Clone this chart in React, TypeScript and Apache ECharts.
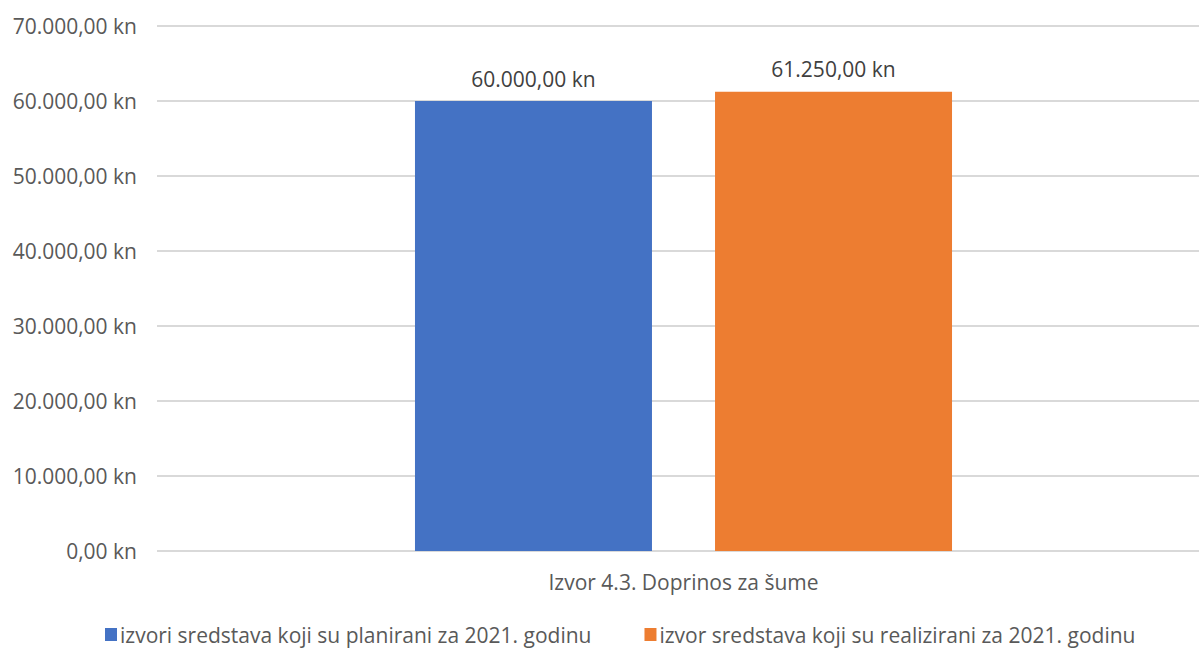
import React, { useEffect, useRef } from "react";
import * as echarts from "echarts";

const categories = ["Izvor 4.3. Doprinos za šume"];
const seriesNames = [
  "izvori sredstava koji su planirani za 2021. godinu",
  "izvor sredstava koji su realizirani za 2021. godinu",
];
const plannedValues = [60000];
const realizedValues = [61250];
const colors = ["#4472C4", "#ED7D31"];
const yMin = 0;
const yMax = 70000;
const yInterval = 10000;

function fmtKn(v: number): string {
  const fixed = Math.abs(v).toFixed(2);
  const [intPart, dec] = fixed.split(".");
  const withDots = intPart.replace(/\B(?=(\d{3})+(?!\d))/g, ".");
  return (v < 0 ? "-" : "") + withDots + "," + dec + " kn";
}

const FONT = "'Open Sans', sans-serif";
const TEXT = "#595959";
const FS = 21;

export default function App() {
  const ref = useRef<HTMLDivElement>(null);
  useEffect(() => {
    document.body.style.margin = "0";
    if (!ref.current) return;
    const chart = echarts.init(ref.current, null, { renderer: "svg" });
    const barLabel = {
      show: true,
      position: "top",
      distance: 12,
      color: "#404040",
      fontSize: FS,
      fontFamily: FONT,
      formatter: (p: any) => fmtKn(p.value),
    };
    chart.setOption({
      animation: false,
      textStyle: { fontFamily: FONT },
      grid: [
        { left: 157, right: 0, top: 26, bottom: 97, containLabel: false },
        { left: 168, right: 0, top: 26, bottom: 97, containLabel: false },
      ],
      legend: {
        left: 105,
        top: 624,
        itemWidth: 12,
        itemHeight: 13,
        itemGap: 53,
        icon: "rect",
        textStyle: { color: TEXT, fontSize: FS, fontFamily: FONT, padding: [0, 0, 0, -2] },
        padding: 0,
      },
      xAxis: [
        {
          type: "category",
          gridIndex: 0,
          data: categories,
          axisLine: { show: false },
          axisTick: { show: false },
          axisLabel: { show: false },
        },
        {
          type: "category",
          gridIndex: 1,
          data: categories,
          axisLine: { show: false },
          axisTick: { show: false },
          axisLabel: { color: TEXT, fontSize: FS, fontFamily: FONT, margin: 20 },
        },
      ],
      yAxis: [
        {
          type: "value",
          gridIndex: 0,
          min: yMin,
          max: yMax,
          interval: yInterval,
          axisLine: { show: false },
          axisTick: { show: false },
          splitLine: { lineStyle: { color: "#D9D9D9", width: 2 } },
          axisLabel: {
            color: TEXT,
            fontSize: FS,
            fontFamily: FONT,
            margin: 20,
            formatter: (v: number) => fmtKn(v),
          },
        },
        {
          type: "value",
          gridIndex: 1,
          min: yMin,
          max: yMax,
          interval: yInterval,
          axisLine: { show: false },
          axisTick: { show: false },
          splitLine: { show: false },
          axisLabel: { show: false },
        },
      ],
      series: [
        {
          name: seriesNames[0],
          type: "bar",
          xAxisIndex: 1,
          yAxisIndex: 1,
          data: plannedValues,
          barWidth: 237,
          barGap: "26.6%",
          itemStyle: { color: colors[0] },
          label: barLabel,
        },
        {
          name: seriesNames[1],
          type: "bar",
          xAxisIndex: 1,
          yAxisIndex: 1,
          data: realizedValues,
          barWidth: 237,
          barGap: "26.6%",
          itemStyle: { color: colors[1] },
          label: barLabel,
        },
      ],
    });
    return () => chart.dispose();
  }, []);
  return <div ref={ref} style={{ width: 1199, height: 648 }} />;
}
